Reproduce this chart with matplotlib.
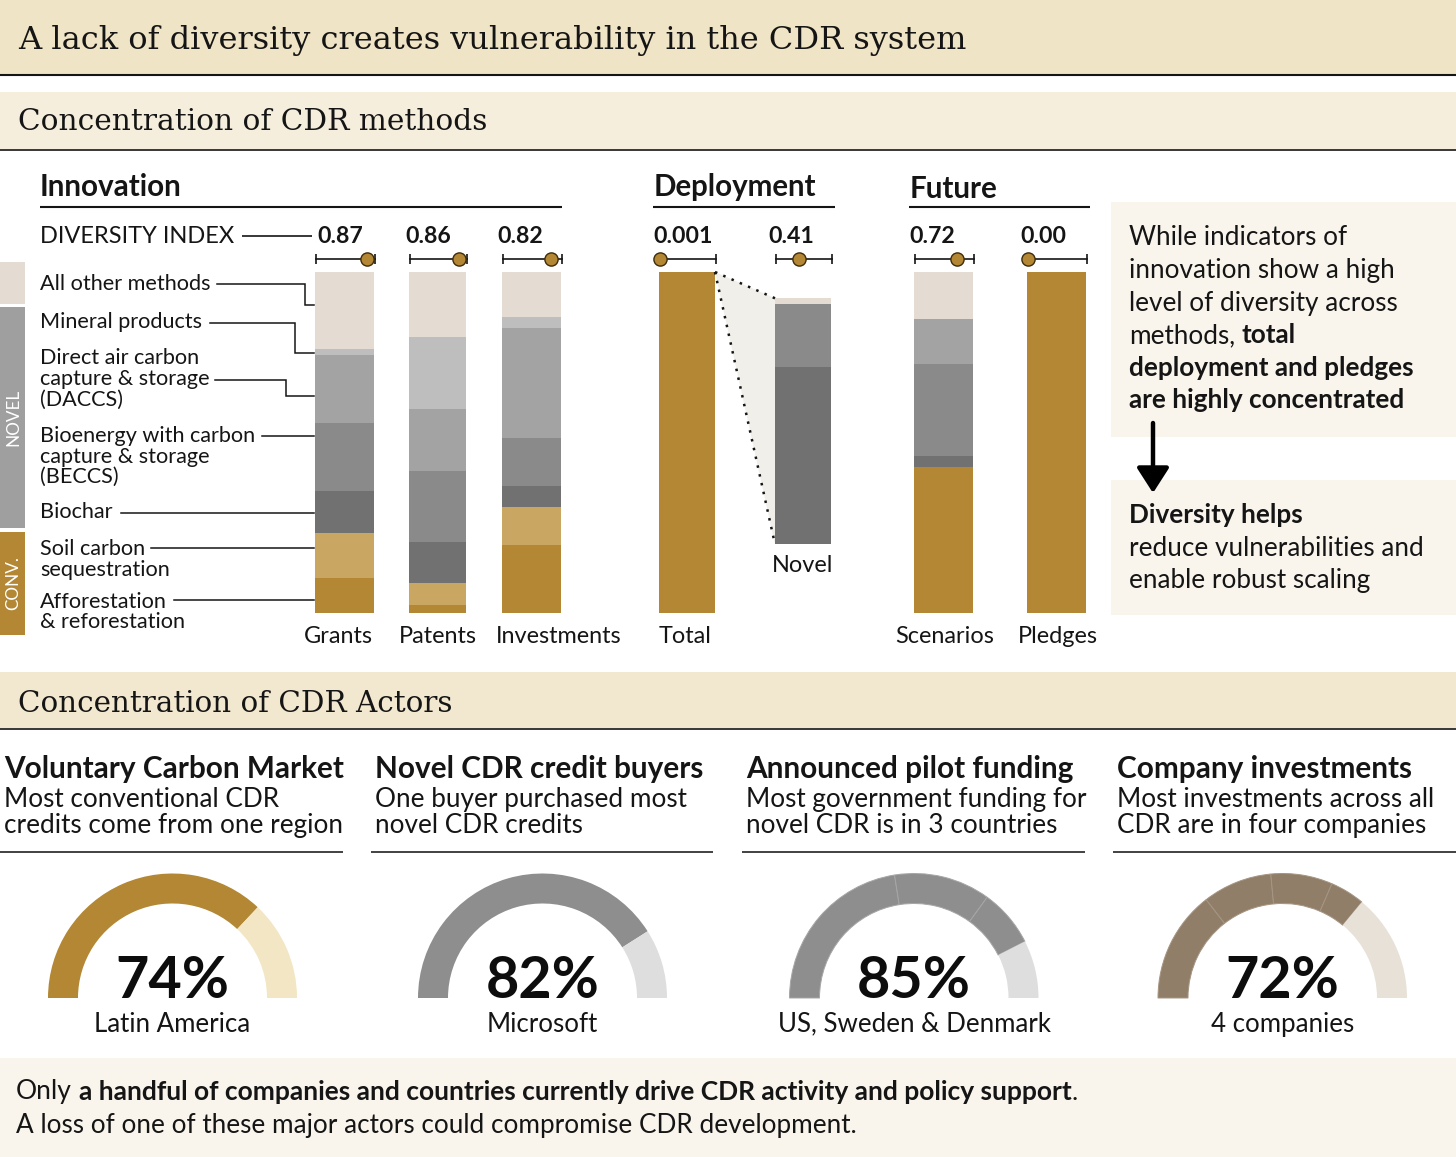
import matplotlib
matplotlib.use('Agg')
import matplotlib.pyplot as plt
from matplotlib.patches import Rectangle, Polygon

# ---------------- DATA ----------------
methods = ['Afforestation & reforestation', 'Soil carbon sequestration', 'Biochar',
           'BECCS', 'DACCS', 'Mineral products', 'All other methods']
method_colors = ['#b38733', '#c9a661', '#717171', '#8a8a8a', '#a3a3a3', '#bebebe', '#e4dcd2']

bar_names = ['Grants', 'Patents', 'Investments', 'Total', 'Novel', 'Scenarios', 'Pledges']
# shares (%) in order of `methods` (bottom -> top)
grants_shares = [10.3, 13.2, 12.2, 20.0, 20.0, 1.8, 22.5]
patents_shares = [2.4, 6.4, 12.2, 20.7, 18.2, 21.0, 19.1]
investments_shares = [20.0, 11.2, 6.1, 14.0, 32.2, 3.4, 13.1]
total_shares = [100.0, 0, 0, 0, 0, 0, 0]
novel_shares = [0, 0, 72.2, 25.5, 0, 0, 2.3]
scenarios_shares = [43.0, 0, 3.1, 27.0, 13.1, 0, 13.8]
pledges_shares = [100.0, 0, 0, 0, 0, 0, 0]
all_shares = [grants_shares, patents_shares, investments_shares, total_shares,
              novel_shares, scenarios_shares, pledges_shares]

diversity_index = [0.87, 0.86, 0.82, 0.001, 0.41, 0.72, 0.00]
index_labels = ['0.87', '0.86', '0.82', '0.001', '0.41', '0.72', '0.00']

gauge_titles = ['Voluntary Carbon Market', 'Novel CDR credit buyers',
                'Announced pilot funding', 'Company investments']
gauge_sub1 = ['Most conventional CDR', 'One buyer purchased most',
              'Most government funding for', 'Most investments across all']
gauge_sub2 = ['credits come from one region', 'novel CDR credits',
              'novel CDR is in 3 countries', 'CDR are in four companies']
gauge1_parts = [74]
gauge2_parts = [82]
gauge3_parts = [45, 25, 15]
gauge4_parts = [29, 18, 16, 9]
gauge_parts = [gauge1_parts, gauge2_parts, gauge3_parts, gauge4_parts]
gauge_pct_labels = ['74%', '82%', '85%', '72%']
gauge_labels = ['Latin America', 'Microsoft', 'US, Sweden & Denmark', '4 companies']

# ---------------- LAYOUT / STYLE ----------------
W, H = 1456, 1157
SANS = 'Lato'
SERIF = 'DejaVu Serif'
INK = '#151515'
GOLD = '#b38733'
gauge_main_colors = ['#b38733', '#8e8e8e', '#8e8e8e', '#917e68']
gauge_rest_colors = ['#f3e6c4', '#dedede', '#dedede', '#e8e1d8']
gauge_edge_colors = [None, None, '#a6a6a6', '#a59583']

bar_x = [344.5, 437.5, 531.5, 687, 803, 943.5, 1056.5]
bar_w = [59, 57, 59, 56, 56, 59, 59]
bar_label_x = [338.5, 437.7, 558.5, 685.3, 802.8, 944.2, 1058.2]
index_label_x = [340.5, 428, 520, 683, 791, 932.5, 1043]
novel_bottom, novel_scale = 0.202, 0.721
BAR_TOP_PX, BAR_BOT_PX = 272.0, 613.3

fig = plt.figure(figsize=(W / 100, H / 100), dpi=100)
fig.patch.set_facecolor('white')
bg = fig.add_axes([0, 0, 1, 1], zorder=0)
bg.set_xlim(0, W)
bg.set_ylim(H, 0)
bg.axis('off')
renderer = fig.canvas.get_renderer()


def text_width(s, size, family=SANS, weight='normal'):
    t = bg.text(0, 0, s, fontsize=size, family=family, fontweight=weight)
    w = t.get_window_extent(renderer).width
    t.remove()
    return w


def fit_size(s, width, family=SANS, weight='normal'):
    return 20.0 * width / text_width(s, 20, family, weight)


def put(x, y, s, width=None, size=None, family=SANS, weight='normal', ha='left',
        color=INK, **kw):
    if size is None:
        size = fit_size(s, width, family, weight)
    return bg.text(x, y, s, fontsize=size, family=family, fontweight=weight,
                   ha=ha, va='baseline', color=color, **kw)


def runs_width(runs, size, family=SANS):
    sp = text_width('x x', size, family) - text_width('xx', size, family)
    w = 0.0
    for s, wt in runs:
        w += sp if s == ' ' else text_width(s, size, family, wt)
    return w


def put_runs(x, y, runs, size, family=SANS, color=INK):
    sp = text_width('x x', size, family) - text_width('xx', size, family)
    for s, wt in runs:
        if s == ' ':
            x += sp
            continue
        t = bg.text(x, y, s, fontsize=size, family=family, fontweight=wt,
                    ha='left', va='baseline', color=color)
        x += t.get_window_extent(renderer).width


def hline(x0, x1, y, lw=1.2, color=INK):
    bg.plot([x0, x1], [y, y], color=color, lw=lw, solid_capstyle='butt')


# ---------------- BACKGROUND BANDS ----------------
bg.add_patch(Rectangle((0, 0), W, 74, color='#f0e4c6', lw=0))
hline(0, W, 75, lw=1.5)
bg.add_patch(Rectangle((0, 92), W, 57, color='#f5eedd', lw=0))
hline(0, W, 149.5, lw=1.2)
bg.add_patch(Rectangle((0, 672), W, 56, color='#f2e7cf', lw=0))
hline(0, W, 728.5, lw=1.2)
bg.add_patch(Rectangle((0, 1058), W, H - 1058, color='#f9f5ec', lw=0))
bg.add_patch(Rectangle((1111, 201.7), W - 1111, 235, color='#f9f5ec', lw=0))
bg.add_patch(Rectangle((1111, 480), W - 1111, 135, color='#f9f5ec', lw=0))

put(18, 49.5, 'A lack of diversity creates vulnerability in the CDR system', width=945, family=SERIF)
put(18, 130.5, 'Concentration of CDR methods', width=468, family=SERIF)
put(18, 711.5, 'Concentration of CDR Actors', width=433, family=SERIF)

# ---------------- SECTION HEADERS ----------------
put(40, 196, 'Innovation', width=142, weight='bold')
put(654, 196, 'Deployment', width=163, weight='bold')
put(910, 198.3, 'Future', width=88, weight='bold')
hline(40, 562, 206.7, lw=1.5)
hline(653, 835, 206.7, lw=1.5)
hline(909, 1090, 206.7, lw=1.5)

di_size = fit_size('DIVERSITY INDEX', 195)
put(40, 243, 'DIVERSITY INDEX', size=di_size)
hline(242, 312, 235.5, lw=1.2)
idx_size = fit_size('0.87', 46, weight='bold')
for xl, lab in zip(index_label_x, index_labels):
    put(xl, 243, lab, size=idx_size, weight='bold', ha='center')

# ---------------- LEFT LEGEND ----------------
bg.add_patch(Rectangle((0, 262), 25, 42, color='#e4dcd2', lw=0))
bg.add_patch(Rectangle((0, 306.7), 25, 221.3, color='#9f9f9f', lw=0))
bg.add_patch(Rectangle((0, 531.7), 25, 103.3, color=GOLD, lw=0))
vs = fit_size('NOVEL', 57)
bg.text(13.5, 417, 'NOVEL', rotation=90, ha='center', va='center', fontsize=vs,
        family=SANS, color='white')
bg.text(13.5, 583, 'CONV.', rotation=90, ha='center', va='center', fontsize=vs,
        family=SANS, color='white')

leg_size = fit_size('Bioenergy with carbon', 215)
legend_lines = [
    (290, 'All other methods'), (328, 'Mineral products'),
    (364, 'Direct air carbon'), (385, 'capture & storage'), (405.5, '(DACCS)'),
    (441.7, 'Bioenergy with carbon'), (462.7, 'capture & storage'), (483, '(BECCS)'),
    (518.3, 'Biochar'), (555, 'Soil carbon'), (575.5, 'sequestration'),
    (607.7, 'Afforestation'), (628.3, '& reforestation'),
]
for yb, s in legend_lines:
    put(40, yb, s, size=leg_size)

leaders = [
    [(217, 283.5), (305, 283.5), (305, 304.5), (314, 304.5)],
    [(209.5, 322.5), (294.5, 322.5), (294.5, 353), (314, 353)],
    [(215, 379.5), (285.5, 379.5), (285.5, 395.5), (314, 395.5)],
    [(262, 436), (314, 436)],
    [(121, 512.5), (314, 512.5)],
    [(151, 548), (314, 548)],
    [(174, 600), (314, 600)],
]
for pts in leaders:
    xs, ys = zip(*pts)
    bg.plot(xs, ys, color=INK, lw=1.1, solid_joinstyle='miter')

# ---------------- BARS ----------------
ax = fig.add_axes([0, (H - BAR_BOT_PX) / H, 1, (BAR_BOT_PX - BAR_TOP_PX) / H], zorder=2)
ax.patch.set_alpha(0)
ax.set_xlim(0, W)
ax.set_ylim(0, 1)
ax.axis('off')

for i, (name, shares) in enumerate(zip(bar_names, all_shares)):
    base = novel_bottom if name == 'Novel' else 0.0
    scale = novel_scale if name == 'Novel' else 1.0
    for sh, col in zip(shares, method_colors):
        if sh <= 0:
            continue
        h = sh / 100.0 * scale
        ax.bar(bar_x[i], h, bottom=base, width=bar_w[i], color=col, lw=0)
        base += h

# zoom wedge from Total to Novel
ti, ni = bar_names.index('Total'), bar_names.index('Novel')
tx = bar_x[ti] + bar_w[ti] / 2
nx = bar_x[ni] - bar_w[ni] / 2
ntop = novel_bottom + novel_scale * sum(novel_shares) / 100.0
ax.add_patch(Polygon([(tx, 1.0), (nx, ntop), (nx, novel_bottom)], closed=True,
                     color='#f1efea', lw=0, zorder=0.5))
ax.plot([tx, nx], [1.0, ntop], ls=(0, (1, 2.6)), color=INK, lw=1.8, clip_on=False)
ax.plot([tx, nx], [1.0, novel_bottom], ls=(0, (1, 2.6)), color=INK, lw=1.8, clip_on=False)

# diversity index indicators
yi = 1.038
for i, v in enumerate(diversity_index):
    x0 = bar_x[i] - bar_w[i] / 2 + 1
    x1 = bar_x[i] + bar_w[i] / 2 + 1
    ax.plot([x0, x1], [yi, yi], color=INK, lw=1.2, clip_on=False)
    ax.plot([x0, x1], [yi, yi], ls='none', marker='|', ms=7, mew=1.2, color=INK, clip_on=False)
    ax.plot([x0 + v * (x1 - x0)], [yi], marker='o', ms=9.5, mfc=GOLD, mec='#3d2c0c',
            mew=1.0, clip_on=False, zorder=5)

# bar labels
lab_size = fit_size('Investments', 127)
for i, name in enumerate(bar_names):
    yb = 571.7 if name == 'Novel' else 643.3
    put(bar_label_x[i], yb, name, size=lab_size, ha='center')

# ---------------- RIGHT TEXT BOXES ----------------
box_size = fit_size('level of diversity across', 269)
put(1129, 245, 'While indicators of', size=box_size)
put(1129, 278, 'innovation show a high', size=box_size)
put(1129, 310.5, 'level of diversity across', size=box_size)
put_runs(1129, 343.3, [('methods,', 'normal'), (' ', None), ('total', 'bold')], box_size)
put(1129, 375.5, 'deployment and pledges', size=box_size, weight='bold')
put(1129, 408.3, 'are highly concentrated', size=box_size, weight='bold')
put(1129, 523.3, 'Diversity helps', size=box_size, weight='bold')
put(1129, 555.5, 'reduce vulnerabilities and', size=box_size)
put(1129, 588.3, 'enable robust scaling', size=box_size)
bg.annotate('', xy=(1153, 493), xytext=(1153, 423),
            arrowprops=dict(arrowstyle='-|>,head_width=0.45,head_length=0.7',
                            lw=3.2, color='black', mutation_scale=22, shrinkA=0, shrinkB=0))

# ---------------- ACTORS ----------------
col_x = [4, 375, 746, 1117]
col_line = [(0, 343), (371, 713), (742, 1085), (1113, 1456)]
gt_size = fit_size('Voluntary Carbon Market', 339, weight='bold')
gs_size = fit_size('credits come from one region', 338)
for i in range(4):
    put(col_x[i], 778.3, gauge_titles[i], size=gt_size, weight='bold')
    put(col_x[i], 806.7, gauge_sub1[i], size=gs_size)
    put(col_x[i], 832.7, gauge_sub2[i], size=gs_size)
    hline(col_line[i][0], col_line[i][1], 852, lw=1.3, color='#333333')

gauge_cx = [172.5, 542.5, 914, 1282.5]
gauge_cy = 998
R = 124.5
ring = 30.0
pct_size = fit_size('74%', 114, weight='bold')
gl_size = fit_size('US, Sweden & Denmark', 273)
for i in range(4):
    gax = fig.add_axes([(gauge_cx[i] - R) / W, (H - gauge_cy - R) / H, 2 * R / W, 2 * R / H],
                       zorder=2)
    gax.patch.set_alpha(0)
    parts = gauge_parts[i]
    rest = 100 - sum(parts)
    vals = parts + [rest, 100]
    cols = [gauge_main_colors[i]] * len(parts) + [gauge_rest_colors[i], 'none']
    wedges, _ = gax.pie(vals, colors=cols, startangle=180, counterclock=False, radius=1.0,
                        wedgeprops=dict(width=ring / R, linewidth=0))
    wedges[-1].set_visible(False)
    if gauge_edge_colors[i] is not None:
        for wdg in wedges[:len(parts)]:
            wdg.set_edgecolor(gauge_edge_colors[i])
            wdg.set_linewidth(0.7)
    gax.set_xlim(-1, 1)
    gax.set_ylim(-1, 1)
    gax.axis('off')
    put(gauge_cx[i], 997.7, gauge_pct_labels[i], size=pct_size, weight='bold', ha='center',
        color='#0d0d0d')
    put(gauge_cx[i], 1031.7, gauge_labels[i], size=gl_size, ha='center')

# ---------------- FOOTER ----------------
foot_runs = [('Only', 'normal'), (' ', None),
             ('a handful of companies and countries currently drive CDR activity and policy support', 'bold'),
             ('.', 'normal')]
foot_size2 = fit_size('A loss of one of these major actors could compromise CDR development.', 837)
foot_size1 = foot_size2 * 1069.0 / runs_width(foot_runs, foot_size2)
put_runs(16, 1099.5, foot_runs, foot_size1)
put(16, 1132.5, 'A loss of one of these major actors could compromise CDR development.', size=foot_size2)

fig.savefig('out.png', dpi=100, facecolor='white')
